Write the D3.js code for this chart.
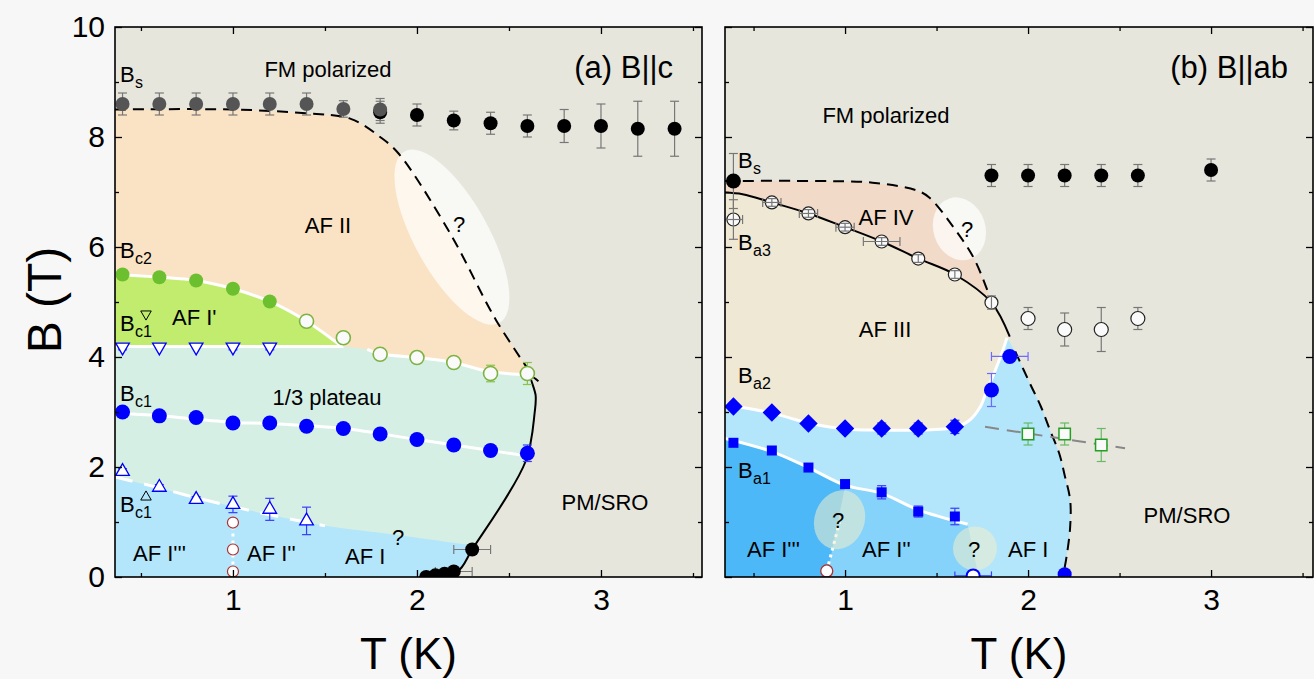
<!DOCTYPE html>
<html>
<head>
<meta charset="utf-8">
<script src="https://cdnjs.cloudflare.com/ajax/libs/d3/7.8.5/d3.min.js"></script>
<style>
  body { margin: 0; background: #f7f7f7; }
  svg { display: block; font-family: "Liberation Sans", Arial, sans-serif; }
</style>
</head>
<body>
<svg id="chart" width="1314" height="679"></svg>
<script>
// ---------- panel (a) B||c   points are [T, B, dB, dT]
var aSatGray  = [[0.4,8.6,0.2],[0.6,8.6,0.2],[0.8,8.6,0.2],[1.0,8.6,0.2],[1.2,8.6,0.2],[1.4,8.6,0.2],[1.6,8.51,0.15],[1.8,8.5,0.2]];
var aSatBlack = [[1.8,8.45,0.2],[2.0,8.4,0.2],[2.2,8.3,0.17],[2.4,8.25,0.2],[2.6,8.2,0.2],[2.8,8.2,0.3],[3.0,8.2,0.4],[3.2,8.15,0.5],[3.4,8.15,0.5]];
var aBc2      = [[0.4,5.5],[0.6,5.45],[0.8,5.39],[1.0,5.24],[1.2,5.01]];
var aBc2Open  = [[1.4,4.65,0],[1.6,4.35,0],[1.8,4.05,0],[2.0,3.99,0.1],[2.2,3.9,0.1],[2.4,3.7,0.15],[2.6,3.7,0.2]];
var aTriDown  = [[0.4,4.18,0.05],[0.6,4.18,0],[0.8,4.18,0],[1.0,4.18,0.05],[1.2,4.18,0.05]];
var aBc1      = [[0.4,3.0],[0.6,2.93],[0.8,2.9],[1.0,2.8],[1.2,2.8],[1.4,2.74],[1.6,2.7],[1.8,2.6],[2.0,2.5],[2.2,2.4,0.1],[2.4,2.3,0.1],[2.6,2.25,0.15]];
var aTriUp    = [[0.4,1.92,0.05],[0.6,1.63,0.05],[0.8,1.41,0.05],[1.0,1.32,0.15],[1.2,1.23,0.2],[1.4,1.02,0.25]];
var aRed      = [[1.0,0.99],[1.0,0.5],[1.0,0.1]];
var aTN       = [[2.05,0.0],[2.1,0.03],[2.15,0.06],[2.2,0.1,0,0.1],[2.3,0.5,0,0.1]];

// boundaries (a)
var aSatLine   = [[0.359,8.5],[1.0,8.5],[1.4,8.43],[1.64,8.33],[1.8,8.0],[1.9,7.7],[2.18,6.25],[2.43,4.67],[2.63,3.65]];
var aTNLine    = [[2.66,3.56],[2.62,3.64],[2.645,3.3],[2.64,3.0],[2.59,2.1],[2.3,0.5],[2.22,0.1],[2.07,0]];
var aBc2Line   = [[0.359,5.49],[0.4,5.49],[0.6,5.45],[0.8,5.39],[1.0,5.24],[1.2,5.01],[1.4,4.65],[1.58,4.22]];
var aBc1Down   = [[0.359,4.19],[1.6,4.19]];
var aPlatTop   = [[1.73,4.14],[1.8,4.06],[2.0,3.99],[2.2,3.9],[2.4,3.73],[2.6,3.68]];
var aBc1Line   = [[0.359,2.98],[0.6,2.93],[1.0,2.81],[1.2,2.79],[1.6,2.7],[2.0,2.5],[2.4,2.3],[2.6,2.2]];
var aBc1UpLine = [[0.359,1.82],[0.6,1.62],[0.8,1.44],[1.0,1.28],[1.2,1.13],[1.5,0.93]];
var aAF1Top    = [[1.9,0.76],[2.29,0.58]];
var aDotted    = [[1.0,0.1],[1.0,1.0]];

// ---------- panel (b) B||ab
var bSat      = [[0.39,7.2,0.5]];
var bSatHigh  = [[1.8,7.3,0.2],[2.0,7.3,0.2],[2.2,7.3,0.2],[2.4,7.3,0.2],[2.6,7.3,0.2],[3.0,7.4,0.2]];
var bBa3      = [[0.39,6.5,0.36,0.05],[0.6,6.81,0.07,0.05],[0.8,6.61,0.07,0.05],[1.0,6.36,0.07,0.05],[1.2,6.1,0.07,0.1],[1.4,5.79,0.07,0],[1.6,5.5,0.07,0],[1.8,4.99,0.12,0]];
var bOpenHigh = [[2.0,4.7,0.2],[2.2,4.5,0.3],[2.4,4.5,0.4],[2.6,4.7,0.2]];
var bBa2      = [[0.39,3.1],[0.6,2.99],[0.8,2.79],[1.0,2.7],[1.2,2.7,0.1],[1.4,2.7,0.1],[1.6,2.73,0.12]];
var bBa2Circ  = [[1.8,3.4,0.3,0],[1.9,4.01,0,0.1]];
var bBa1      = [[0.39,2.44],[0.6,2.3],[0.8,1.99],[1.0,1.69],[1.2,1.54,0.12],[1.4,1.19,0.1],[1.6,1.1,0.15]];
var bSq       = [[2.0,2.6,0.2],[2.2,2.6,0.2],[2.4,2.4,0.3]];
var bRed      = [[0.9,0.11]];
var bBlueOpen = [[1.7,0.02,0,0.1]];
var bBlueTN   = [[2.2,0.05]];

// boundaries (b)
var bSatLine  = [[0.344,7.2],[0.8,7.2],[1.15,7.17],[1.39,7.03],[1.46,6.9],[1.59,6.37],[1.70,5.82],[1.77,5.28],[1.8,5.0]];
var bBa3Line  = [[0.344,6.99],[0.44,6.96],[0.6,6.81],[0.8,6.61],[1.0,6.36],[1.2,6.1],[1.4,5.79],[1.6,5.5],[1.8,4.99],[1.9,4.37]];
var bTNLine   = [[1.93,4.1],[2.01,3.52],[2.07,3.1],[2.12,2.67],[2.17,2.25],[2.2,1.85],[2.23,1.4],[2.23,0.91],[2.21,0.36],[2.19,0]];
var bBa2Line  = [[0.344,3.13],[0.6,2.98],[0.8,2.8],[1.0,2.69],[1.2,2.67],[1.4,2.67],[1.6,2.72],[1.68,2.85],[1.74,3.1],[1.77,3.35],[1.82,3.75],[1.86,4.1],[1.885,4.35]];
var bBa1Line  = [[0.344,2.52],[0.6,2.28],[0.8,1.99],[1.0,1.67],[1.2,1.52],[1.4,1.22],[1.67,0.96]];
var bI2Edge   = [[1.67,0.96],[1.73,0]];
var bI3Edge   = [[1.0,1.65],[0.9,0]];
var bDotted   = [[0.9,0.11],[0.97,1.0]];
var bGrayDash = [[1.765,2.73],[2.53,2.34]];

// centres of the "?" ellipses [T, B]
var aQs = [[2.19,6.18]];
var bQs = [[1.625,6.33],[0.97,1.04],[1.71,0.52]];

var xTicks = [1, 2, 3], xMinor = [0.5, 1.5, 2.5, 3.5];
var yTicks = [0, 2, 4, 6, 8, 10], yMinor = [1, 3, 5, 7, 9];

// shapes of the "?" ellipses (drawing style only)
var aQShape = [{rx: 98, ry: 37, rot: 61, fill: "#ffffff", op: 0.7}];
var bQShape = [{rx: 26, ry: 32, rot: -18, fill: "#ffffff", op: 0.7},
               {rx: 25, ry: 30, rot: 20, fill: "#f0eecc", op: 0.55},
               {rx: 22, ry: 22, rot: 0, fill: "#f0eecc", op: 0.55}];

var svg = d3.select("#chart");
var y = d3.scaleLinear().domain([0, 10]).range([577, 27]);
var xA = d3.scaleLinear().domain([0.359, 3.549]).range([115, 702]);
var xB = d3.scaleLinear().domain([0.344, 3.557]).range([725, 1313]);

svg.append("rect").attr("width", 1314).attr("height", 679).attr("fill", "#f7f7f7");
var defs = svg.append("defs");

function seg(x, pts, smooth) {
    return d3.line().x(function (d) { return x(d[0]); }).y(function (d) { return y(d[1]); })
        .curve(smooth === false ? d3.curveLinear : d3.curveCatmullRom)(pts);
}
function join(parts) {
    return parts.map(function (p, i) { return i ? p.replace(/^M/, "L") : p; }).join("") + "Z";
}
function rev(a) { return a.slice().reverse(); }

function fill(g, d, color) {
    g.append("path").attr("d", d).attr("fill", color);
}
function stroke(g, x, pts, color, w, dash, smooth) {
    g.append("path").attr("d", seg(x, pts, smooth)).attr("fill", "none")
        .attr("stroke", color).attr("stroke-width", w)
        .attr("stroke-dasharray", dash || null);
}
function errBars(g, x, data, color) {
    data.forEach(function (d) {
        var cx = x(d[0]), cy = y(d[1]);
        if (d[2]) {
            g.append("line").attr("x1", cx).attr("x2", cx).attr("y1", y(d[1] - d[2])).attr("y2", y(d[1] + d[2]))
                .attr("stroke", color).attr("stroke-width", 1.2);
            [d[1] - d[2], d[1] + d[2]].forEach(function (v) {
                g.append("line").attr("x1", cx - 4.5).attr("x2", cx + 4.5).attr("y1", y(v)).attr("y2", y(v))
                    .attr("stroke", color).attr("stroke-width", 1.2);
            });
        }
        if (d[3]) {
            g.append("line").attr("y1", cy).attr("y2", cy).attr("x1", x(d[0] - d[3])).attr("x2", x(d[0] + d[3]))
                .attr("stroke", color).attr("stroke-width", 1.2);
            [d[0] - d[3], d[0] + d[3]].forEach(function (v) {
                g.append("line").attr("y1", cy - 4.5).attr("y2", cy + 4.5).attr("x1", x(v)).attr("x2", x(v))
                    .attr("stroke", color).attr("stroke-width", 1.2);
            });
        }
    });
}
function dots(g, x, data, r, fillC, strokeC, sw) {
    g.selectAll(null).data(data).enter().append("circle")
        .attr("cx", function (d) { return x(d[0]); }).attr("cy", function (d) { return y(d[1]); })
        .attr("r", r).attr("fill", fillC).attr("stroke", strokeC || "none").attr("stroke-width", sw || 0);
}
function syms(g, x, data, type, size, rot, fillC, strokeC, sw) {
    g.selectAll(null).data(data).enter().append("path")
        .attr("d", d3.symbol().type(type).size(size))
        .attr("transform", function (d) { return "translate(" + x(d[0]) + "," + y(d[1]) + ") rotate(" + rot + ")"; })
        .attr("fill", fillC).attr("stroke", strokeC || "none").attr("stroke-width", sw || 0);
}
function qEllipses(g, x, data, shapes) {
    data.forEach(function (d, i) {
        var s = shapes[i];
        g.append("ellipse").attr("rx", s.rx).attr("ry", s.ry)
            .attr("transform", "translate(" + x(d[0]) + "," + y(d[1]) + ") rotate(" + s.rot + ")")
            .attr("fill", s.fill).attr("fill-opacity", s.op);
    });
}
function txt(x0, y0, s, size, anchor) {
    return svg.append("text").attr("x", x0).attr("y", y0).attr("font-size", size)
        .attr("text-anchor", anchor || "start").attr("fill", "#000").text(s);
}
function bLabel(x0, y0, sub) {
    txt(x0, y0, "B", 22);
    txt(x0 + 15, y0 + 6, sub, 16);
}
function openTri(x0, y0, rot) {
    svg.append("path").attr("d", d3.symbol().type(d3.symbolTriangle).size(48)())
        .attr("transform", "translate(" + x0 + "," + y0 + ") rotate(" + rot + ")")
        .attr("fill", "none").attr("stroke", "#000").attr("stroke-width", 1);
}

function panel(id, x) {
    var r = x.range();
    defs.append("clipPath").attr("id", id).append("rect")
        .attr("x", r[0]).attr("y", 27).attr("width", r[1] - r[0]).attr("height", 550);
    var g = svg.append("g").attr("clip-path", "url(#" + id + ")");
    g.append("rect").attr("x", r[0]).attr("y", 27).attr("width", r[1] - r[0]).attr("height", 550).attr("fill", "#e7e6dd");
    return g;
}
function frame(x, labelsY) {
    var r = x.range();
    var ax = svg.append("g").attr("class", "axes");
    ax.append("g").attr("transform", "translate(0,577)")
        .call(d3.axisBottom(x).tickValues(xTicks).tickSize(-7).tickPadding(12).tickFormat(d3.format("d")));
    ax.append("g").attr("transform", "translate(0,577)")
        .call(d3.axisBottom(x).tickValues(xMinor).tickSize(-4).tickFormat(""));
    ax.append("g").attr("transform", "translate(0,27)")
        .call(d3.axisTop(x).tickValues(xTicks).tickSize(-7).tickFormat(""));
    ax.append("g").attr("transform", "translate(0,27)")
        .call(d3.axisTop(x).tickValues(xMinor).tickSize(-4).tickFormat(""));
    ax.append("g").attr("transform", "translate(" + r[0] + ",0)")
        .call(d3.axisLeft(y).tickValues(yTicks).tickSize(-7).tickPadding(10).tickFormat(labelsY ? d3.format("d") : ""));
    ax.append("g").attr("transform", "translate(" + r[0] + ",0)")
        .call(d3.axisLeft(y).tickValues(yMinor).tickSize(-4).tickFormat(""));
    ax.append("g").attr("transform", "translate(" + r[1] + ",0)")
        .call(d3.axisRight(y).tickValues(yTicks).tickSize(-7).tickFormat(""));
    ax.append("g").attr("transform", "translate(" + r[1] + ",0)")
        .call(d3.axisRight(y).tickValues(yMinor).tickSize(-4).tickFormat(""));
    ax.selectAll(".domain").remove();
    ax.selectAll(".tick line").attr("stroke", "#000").attr("stroke-width", 1.3);
    ax.selectAll(".tick text").attr("font-size", 30).attr("fill", "#000")
        .attr("font-family", "'Liberation Sans', Arial, sans-serif");
    svg.append("rect").attr("x", r[0]).attr("y", 27).attr("width", r[1] - r[0]).attr("height", 550)
        .attr("fill", "none").attr("stroke", "#000").attr("stroke-width", 1.6);
    txt((r[0] + r[1]) / 2, 669, "T (K)", 44, "middle");
}

// ================= panel (a)
var ga = panel("clipA", xA);
fill(ga, join([seg(xA, aSatLine), seg(xA, [[0.359, 3.6]], false)]), "#fae3c4");
fill(ga, join([seg(xA, aBc1Down, false), seg(xA, aPlatTop), seg(xA, aTNLine.slice(1)), seg(xA, [[0.359, 0]], false)]), "#d5efe4");
fill(ga, join([seg(xA, aBc2Line), seg(xA, [[1.6, 4.19], [0.359, 4.19]], false)]), "#c1ec6d");
fill(ga, join([seg(xA, aBc1UpLine.concat(aAF1Top)), seg(xA, aTNLine.slice(5)), seg(xA, [[0.359, 0]], false)]), "#b3e5fb");
qEllipses(ga, xA, aQs, aQShape);

stroke(ga, xA, aBc2Line, "#fff", 3);
stroke(ga, xA, aBc1Down, "#fff", 3, null, false);
stroke(ga, xA, aPlatTop, "#fff", 3);
stroke(ga, xA, aBc1Line, "#fff", 3);
stroke(ga, xA, aBc1UpLine, "#fff", 3, "18,12");
stroke(ga, xA, aDotted, "#fff", 3, "3,4", false);
stroke(ga, xA, aSatLine, "#000", 2, "11,7");
stroke(ga, xA, aTNLine, "#000", 2);

errBars(ga, xA, aSatBlack, "#777");
errBars(ga, xA, aSatGray, "#777");
errBars(ga, xA, aBc2Open, "#8bc34a");
errBars(ga, xA, aTriDown, "#3b3bff");
errBars(ga, xA, aBc1, "#3b3bff");
errBars(ga, xA, aTriUp, "#3b3bff");
errBars(ga, xA, aTN, "#777");

dots(ga, xA, aSatBlack, 7, "#000");
dots(ga, xA, aSatGray, 7, "#555");
dots(ga, xA, aBc2, 7, "#6cbf2e");
dots(ga, xA, aBc2Open, 7, "#fafafa", "#7cb342", 1.6);
syms(ga, xA, aTriDown, d3.symbolTriangle, 80, 180, "#fff", "#0000ff", 1.3);
dots(ga, xA, aBc1, 7.5, "#0000ff");
syms(ga, xA, aTriUp, d3.symbolTriangle, 80, 0, "#fff", "#0000ff", 1.3);
dots(ga, xA, aRed, 5.5, "#fff", "#b03030", 1.2);
dots(ga, xA, aTN, 7, "#000");

txt(673, 78, "(a) B||c", 31, "end");
txt(328, 77, "FM polarized", 22, "middle");
bLabel(120, 82, "s");
txt(328, 233, "AF II", 22, "middle");
bLabel(120, 258, "c2");
bLabel(120, 331, "c1"); openTri(146, 314, 180);
txt(172, 325, "AF I'", 22);
bLabel(120, 401, "c1");
txt(327, 405, "1/3 plateau", 22, "middle");
bLabel(120, 512, "c1"); openTri(146, 497, 0);
txt(133, 561, "AF I'''", 22);
txt(247, 561, "AF I''", 22);
txt(345, 564, "AF I", 22);
txt(398, 545, "?", 22, "middle");
txt(605, 510, "PM/SRO", 22, "middle");
txt(459, 232, "?", 22, "middle");
frame(xA, true);

// ================= panel (b)
var gb = panel("clipB", xB);
fill(gb, join([seg(xB, bSatLine), seg(xB, [[1.84, 4.75], [1.9, 4.37]]), seg(xB, rev(bBa3Line.slice(0, 9)))]), "#f2dac9");
fill(gb, join([seg(xB, bBa3Line), seg(xB, rev(bBa2Line))]), "#efe8d4");
fill(gb, join([seg(xB, bBa2Line), seg(xB, bTNLine), seg(xB, [[0.344, 0]], false)]), "#b3e5fb");
fill(gb, join([seg(xB, bBa1Line), seg(xB, bI2Edge, false), seg(xB, [[0.344, 0]], false)]), "#85d3fb");
fill(gb, join([seg(xB, bBa1Line.slice(0, 4)), seg(xB, bI3Edge, false), seg(xB, [[0.344, 0]], false)]), "#4cb8f8");

stroke(gb, xB, bBa2Line, "#fff", 3);
stroke(gb, xB, bBa1Line, "#fff", 3);
stroke(gb, xB, bDotted, "#fff", 3, "3,4", false);
qEllipses(gb, xB, bQs, bQShape);
stroke(gb, xB, bSatLine, "#000", 2, "11,7");
stroke(gb, xB, bBa3Line, "#000", 2);
stroke(gb, xB, bTNLine, "#000", 2, "11,7");
stroke(gb, xB, bGrayDash, "#888", 2, "14,8", false);

errBars(gb, xB, bSat, "#777");
errBars(gb, xB, bSatHigh, "#777");
errBars(gb, xB, bOpenHigh, "#777");
errBars(gb, xB, bBa2, "#3b3bff");
errBars(gb, xB, bBa2Circ, "#6b6bff");
errBars(gb, xB, bBa1, "#3b3bff");
errBars(gb, xB, bSq, "#66bb66");
errBars(gb, xB, bBlueOpen, "#3b3bff");

dots(gb, xB, bSat, 7.5, "#000");
dots(gb, xB, bSatHigh, 7, "#000");
dots(gb, xB, bBa3, 6.5, "#fafafa", "#222", 1.2);
errBars(gb, xB, bBa3, "#777");
dots(gb, xB, bOpenHigh, 7, "#fafafa", "#222", 1.2);
syms(gb, xB, bBa2, d3.symbolSquare, 170, 45, "#0000ff");
dots(gb, xB, bBa2Circ, 7.5, "#0000ff");
syms(gb, xB, bBa1, d3.symbolSquare, 100, 0, "#0000ff");
syms(gb, xB, bSq, d3.symbolSquare, 130, 0, "#fafafa", "#22a022", 1.5);
dots(gb, xB, bRed, 6, "#fff", "#b03030", 1.3);
dots(gb, xB, bBlueOpen, 6.5, "#fff", "#0000ff", 2);
dots(gb, xB, bBlueTN, 7, "#0000ff");

txt(1288, 78, "(b) B||ab", 31, "end");
txt(886, 123, "FM polarized", 22, "middle");
bLabel(738, 168, "s");
txt(886, 225, "AF IV", 22, "middle");
bLabel(738, 250, "a3");
txt(885, 337, "AF III", 22, "middle");
bLabel(738, 383, "a2");
bLabel(738, 478, "a1");
txt(747, 557, "AF I'''", 22);
txt(862, 557, "AF I''", 22);
txt(1008, 557, "AF I", 22);
txt(1187, 523, "PM/SRO", 22, "middle");
txt(967, 237, "?", 22, "middle");
txt(838, 528, "?", 22, "middle");
txt(974, 557, "?", 22, "middle");
frame(xB, false);

// y title
svg.append("text").attr("transform", "translate(61,300) rotate(-90)")
    .attr("text-anchor", "middle").attr("font-size", 48).text("B (T)");
</script>
</body>
</html>
